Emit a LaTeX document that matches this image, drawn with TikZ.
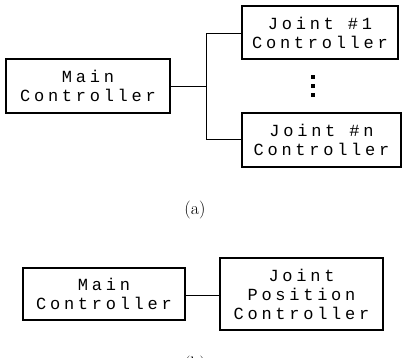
\documentclass[tikz,border=0pt]{standalone}
\usepackage{fontspec}
\newfontfamily\plotfont[LetterSpace=22]{Liberation Mono}
\begin{document}
\begin{tikzpicture}[x=1pt,y=-1pt,
  box/.style={draw, line width=1.6pt, inner sep=0pt, align=center,
    font=\plotfont\fontsize{17}{19}\selectfont},
  conn/.style={line width=0.8pt},
  dotmark/.style={fill, inner sep=0pt, minimum size=4pt},
  caption/.style={font=\fontsize{18}{20}\selectfont}]
\useasboundingbox (0,0) rectangle (402,358);
% (a)
\node[box, minimum width=164pt, minimum height=54pt] (mainA) at (88,86) {Main\\Controller};
\node[box, minimum width=156pt, minimum height=53pt] (j1) at (320,32.5) {Joint \#1\\Controller};
\node[box, minimum width=159pt, minimum height=54pt] (jn) at (321.5,140) {Joint \#n\\Controller};
\coordinate (fork) at (206,86);
\coordinate (forkTop) at (206,33);
\coordinate (forkBot) at (206,139);
\draw[conn] (mainA.east |- fork) -- (fork);
\draw[conn] (j1.west |- forkTop) -- (forkTop) -- (forkBot) -- (jn.west |- forkBot);
\node[dotmark] (d1) at (313,77) {};
\node[dotmark] (d2) at (313,86.5) {};
\node[dotmark] (d3) at (313,95.5) {};
\node[caption] (capA) at (195,210) {(a)};
% (b)
\node[box, minimum width=162pt, minimum height=52pt] (mainB) at (104,294) {Main\\Controller};
\node[box, minimum width=163pt, minimum height=72pt] (jpc) at (301.5,294) {Joint\\Position\\Controller};
\draw[conn] (mainB.east |- 0,295) -- (jpc.west |- 0,295);
\node[caption, anchor=base] (capB) at (195,370) {(b)};
\end{tikzpicture}
\end{document}
